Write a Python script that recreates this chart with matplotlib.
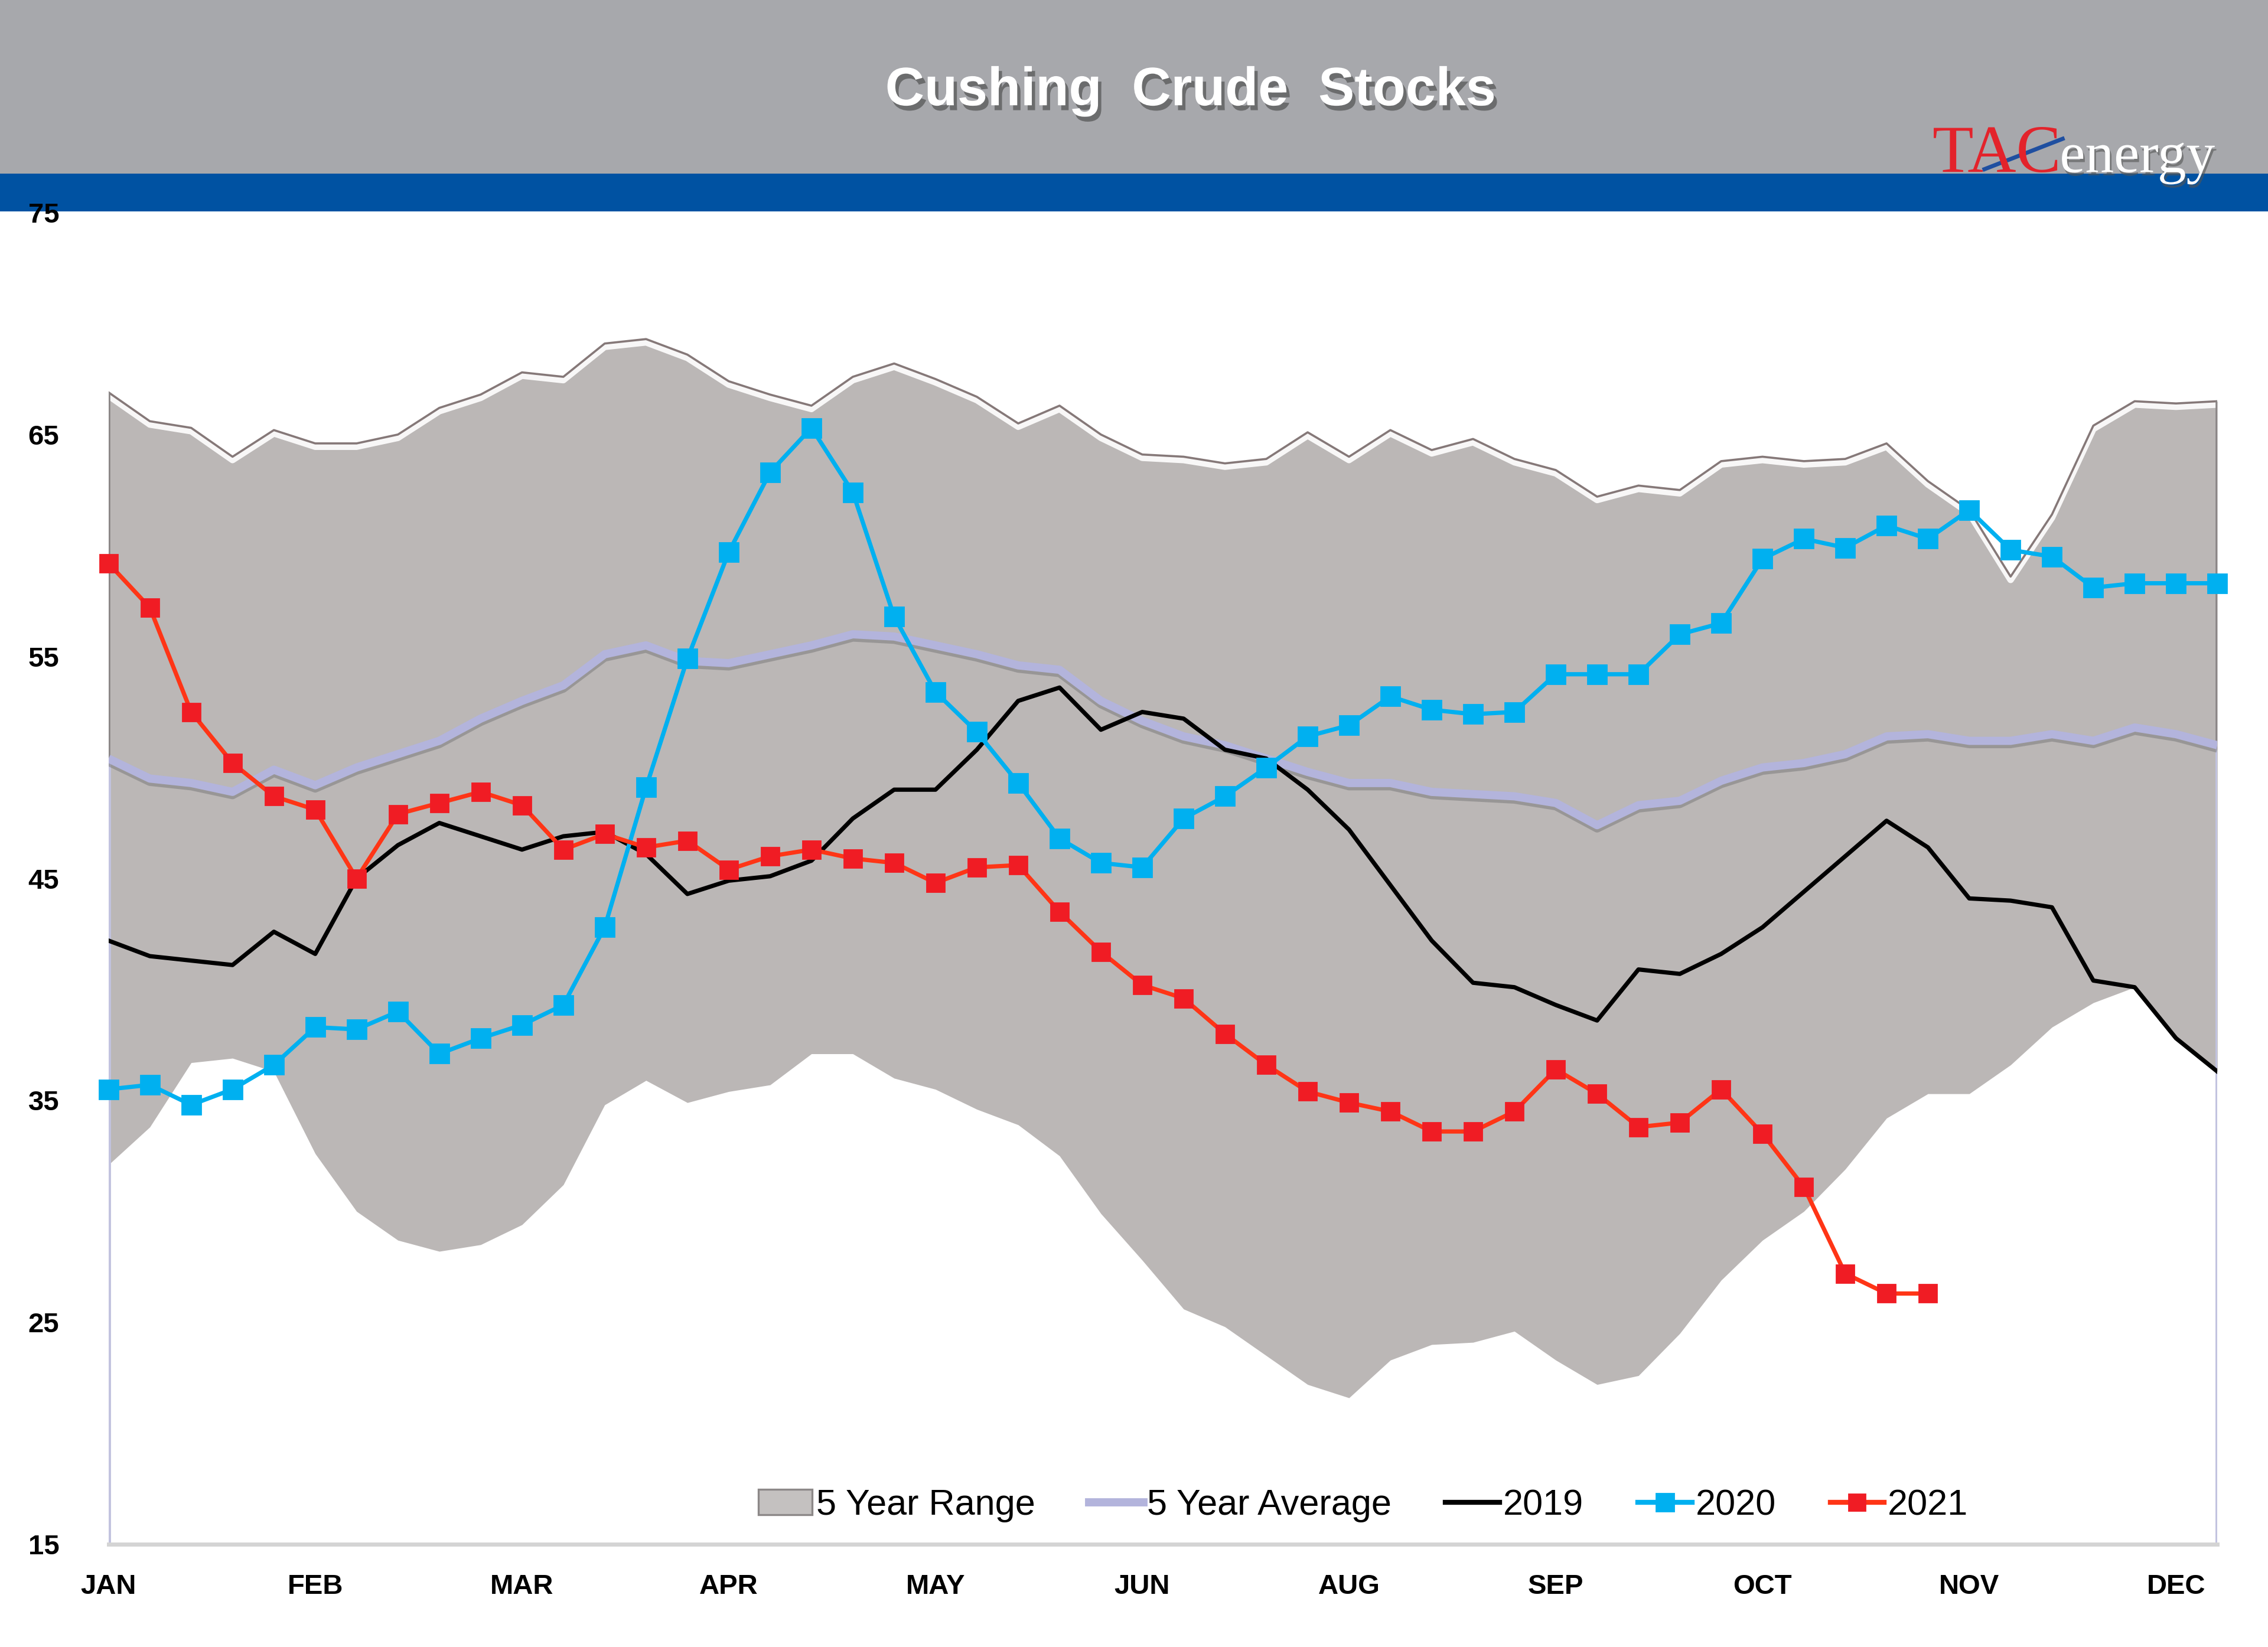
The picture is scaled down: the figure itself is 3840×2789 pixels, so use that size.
import numpy as np
import matplotlib
matplotlib.use("Agg")
from matplotlib import pyplot as plt
from matplotlib import patheffects as pe
from matplotlib.lines import Line2D
from matplotlib.patches import Patch, Rectangle

# weekly data, 52 weeks
months = ['JAN', 'FEB', 'MAR', 'APR', 'MAY', 'JUN', 'AUG', 'SEP', 'OCT', 'NOV', 'DEC']
month_weeks = [0, 5, 10, 15, 20, 25, 30, 35, 40, 45, 50]

range_hi = [66.9, 65.6, 65.3, 64.0, 65.2, 64.6, 64.6, 65.0, 66.2, 66.8,
            67.8, 67.6, 69.1, 69.3, 68.6, 67.4, 66.8, 66.3, 67.6, 68.2,
            67.5, 66.7, 65.5, 66.3, 65.0, 64.1, 64.0, 63.7, 63.9, 65.1,
            64.0, 65.2, 64.3, 64.8, 63.9, 63.4, 62.2, 62.7, 62.5, 63.8,
            64.0, 63.8, 63.9, 64.6, 62.9, 61.6, 58.6, 61.4, 65.4, 66.5,
            66.4, 66.5]
range_lo = [32.1, 33.8, 36.7, 36.9, 36.3, 32.6, 30.0, 28.7, 28.2, 28.5,
            29.4, 31.2, 34.8, 35.9, 34.9, 35.4, 35.7, 37.1, 37.1, 36.0,
            35.5, 34.6, 33.9, 32.5, 29.9, 27.8, 25.6, 24.8, 23.5, 22.2,
            21.6, 23.3, 24.0, 24.1, 24.6, 23.3, 22.2, 22.6, 24.5, 26.9,
            28.7, 30.0, 31.9, 34.2, 35.3, 35.3, 36.6, 38.3, 39.4, 40.1,
            37.8, 36.3]
avg5 = [50.4, 49.5, 49.3, 48.9, 49.9, 49.2, 50.0, 50.6, 51.2, 52.2,
        53.0, 53.7, 55.1, 55.5, 54.8, 54.7, 55.1, 55.5, 56.0, 55.9,
        55.5, 55.1, 54.6, 54.4, 53.0, 52.1, 51.4, 51.0, 50.4, 49.8,
        49.3, 49.3, 48.9, 48.8, 48.7, 48.4, 47.4, 48.3, 48.5, 49.4,
        50.0, 50.2, 50.6, 51.4, 51.5, 51.2, 51.2, 51.5, 51.2, 51.8,
        51.5, 51.0]
y2019 = [42.2, 41.5, 41.3, 41.1, 42.6, 41.6, 45.0, 46.5, 47.5, 46.9,
         46.3, 46.9, 47.1, 46.1, 44.3, 44.9, 45.1, 45.8, 47.7, 49.0,
         49.0, 50.8, 53.0, 53.6, 51.7, 52.5, 52.2, 50.8, 50.4, 49.0,
         47.2, 44.7, 42.2, 40.3, 40.1, 39.3, 38.6, 40.9, 40.7, 41.6,
         42.8, 44.4, 46.0, 47.6, 46.4, 44.1, 44.0, 43.7, 40.4, 40.1,
         37.8, 36.3]
y2020 = [35.5, 35.7, 34.8, 35.5, 36.6, 38.3, 38.2, 39.0, 37.1, 37.8,
         38.4, 39.3, 42.8, 49.1, 54.9, 59.7, 63.3, 65.3, 62.4, 56.8,
         53.4, 51.6, 49.3, 46.8, 45.7, 45.5, 47.7, 48.7, 50.0, 51.4,
         51.9, 53.2, 52.6, 52.4, 52.5, 54.2, 54.2, 54.2, 56.0, 56.5,
         59.4, 60.3, 59.9, 60.9, 60.3, 61.6, 59.8, 59.5, 58.1, 58.3,
         58.3, 58.3]
y2021 = [59.2, 57.2, 52.5, 50.2, 48.7, 48.1, 45.0, 47.9, 48.4, 48.9,
         48.3, 46.3, 47.0, 46.4, 46.7, 45.4, 46.0, 46.3, 45.9, 45.7,
         44.8, 45.5, 45.6, 43.5, 41.7, 40.2, 39.6, 38.0, 36.6, 35.4,
         34.9, 34.5, 33.6, 33.6, 34.5, 36.4, 35.3, 33.8, 34.0, 35.5,
         33.5, 31.1, 27.2, 26.3, 26.3]

weeks = np.arange(len(range_hi))
weeks21 = np.arange(len(y2021))

W, H = 3840, 2789
fig = plt.figure(figsize=(W / 200, H / 200), dpi=200)
fig.patch.set_facecolor('white')

# header bands
fig.add_artist(Rectangle((0, 1 - 120 / 1139), 1, 120 / 1139, transform=fig.transFigure,
                         facecolor='#a7a8ac', edgecolor='none', zorder=0))
fig.add_artist(Rectangle((0, 1 - 146 / 1139), 1, 26 / 1139, transform=fig.transFigure,
                         facecolor='#0052a2', edgecolor='none', zorder=0))

fig.text(823 / 1568, 1 - 63 / 1139, 'Cushing  Crude  Stocks', ha='center', va='center',
         color='white', fontsize=33, fontweight='bold', family='Liberation Sans',
         path_effects=[pe.withSimplePatchShadow(offset=(2, -3), shadow_rgbFace='#444444', alpha=0.6)])

# logo
fig.text(1336 / 1568, 1 - 119 / 1139, 'TAC', ha='left', va='baseline', color='#e3232b',
         fontsize=41, family='Liberation Serif')
fig.text(1424 / 1568, 1 - 119 / 1139, 'energy', ha='left', va='baseline', color='white',
         fontsize=35, family='Liberation Serif',
         path_effects=[pe.withSimplePatchShadow(offset=(1, -2), shadow_rgbFace='#555', alpha=0.6)])
fig.add_artist(Line2D([1372 / 1568, 1426 / 1568], [1 - 117 / 1139, 1 - 96 / 1139],
                      transform=fig.transFigure, color='#1f4fa0', lw=2.5))

ax = fig.add_axes([75 / 1568, 1 - 1068 / 1139, (1533 - 75) / 1568, (1068 - 147) / 1139])
ax.set_facecolor('none')

# 5 year range
ax.fill_between(weeks, range_lo, range_hi, color='#bbb7b6', lw=0, zorder=1)
ax.plot(weeks, range_hi, color='white', lw=4, alpha=0.0, zorder=2,
        path_effects=[pe.SimpleLineShadow(offset=(0, -2), shadow_color='white', alpha=0.9)])
ax.plot(weeks, range_hi, color='#857878', lw=1.3, zorder=3)
ax.vlines(weeks[0], range_lo[0], range_hi[0], color='#8a8686', lw=2, zorder=3)
ax.vlines(weeks[-1], range_lo[-1], range_hi[-1], color='#8a8686', lw=2, zorder=3)
ax.vlines([weeks[0], weeks[-1]], 15, [avg5[0], avg5[-1]], color='#c2c3df', lw=2.5, zorder=3)

# 5 year average
ax.plot(weeks, avg5, color='#b3b4dc', lw=5, zorder=4, solid_capstyle='butt',
        path_effects=[pe.SimpleLineShadow(offset=(0, -2), shadow_color='#777', alpha=0.5), pe.Normal()])

ax.plot(weeks, y2019, color='black', lw=2.6, zorder=5)
ax.plot(weeks, y2020, color='#00b0f0', lw=2.6, marker='s', ms=11.5, mec='#00b0f0',
        mfc='#00b0f0', zorder=6, clip_on=False)
ax.plot(weeks21, y2021, color='#ff3516', lw=2.6, marker='s', ms=10.5, mec='#f01c24',
        mfc='#f01c24', zorder=7, clip_on=False)

ax.set_xlim(0, 51)
ax.set_ylim(15, 75)
ax.set_yticks(range(15, 76, 10))
ax.set_xticks(month_weeks)
ax.set_xticklabels(months)
ax.tick_params(length=0)
ax.tick_params(axis='x', pad=18)
ax.tick_params(axis='y', pad=30)
for lab in ax.get_xticklabels() + ax.get_yticklabels():
    lab.set_fontweight('bold')
    lab.set_fontsize(17)
    lab.set_family('Liberation Sans')
for s in ['top', 'left', 'right']:
    ax.spines[s].set_visible(False)
ax.spines['bottom'].set_color('#d4d4d4')
ax.spines['bottom'].set_linewidth(2.5)
ax.spines['bottom'].set_zorder(8)

handles = [
    Patch(facecolor='#c4c1c0', edgecolor='#8c8888', lw=1.2),
    Line2D([], [], color='#b3b4dc', lw=5),
    Line2D([], [], color='black', lw=3),
    Line2D([], [], color='#00b0f0', lw=3, marker='s', ms=11, mec='#00b0f0'),
    Line2D([], [], color='#ff3516', lw=3, marker='s', ms=10, mec='#f01c24', mfc='#f01c24'),
]
labels = ['5 Year Range', '5 Year Average', '2019', '2020', '2021']
leg = ax.legend(handles, labels, loc='center', bbox_to_anchor=(0.595, 0.029), ncol=5,
                frameon=False, handlelength=1.5, handletextpad=0.1, columnspacing=1.5,
                prop={'family': 'Liberation Sans', 'size': 22})

fig.savefig('out.png', dpi=200, facecolor='white')
